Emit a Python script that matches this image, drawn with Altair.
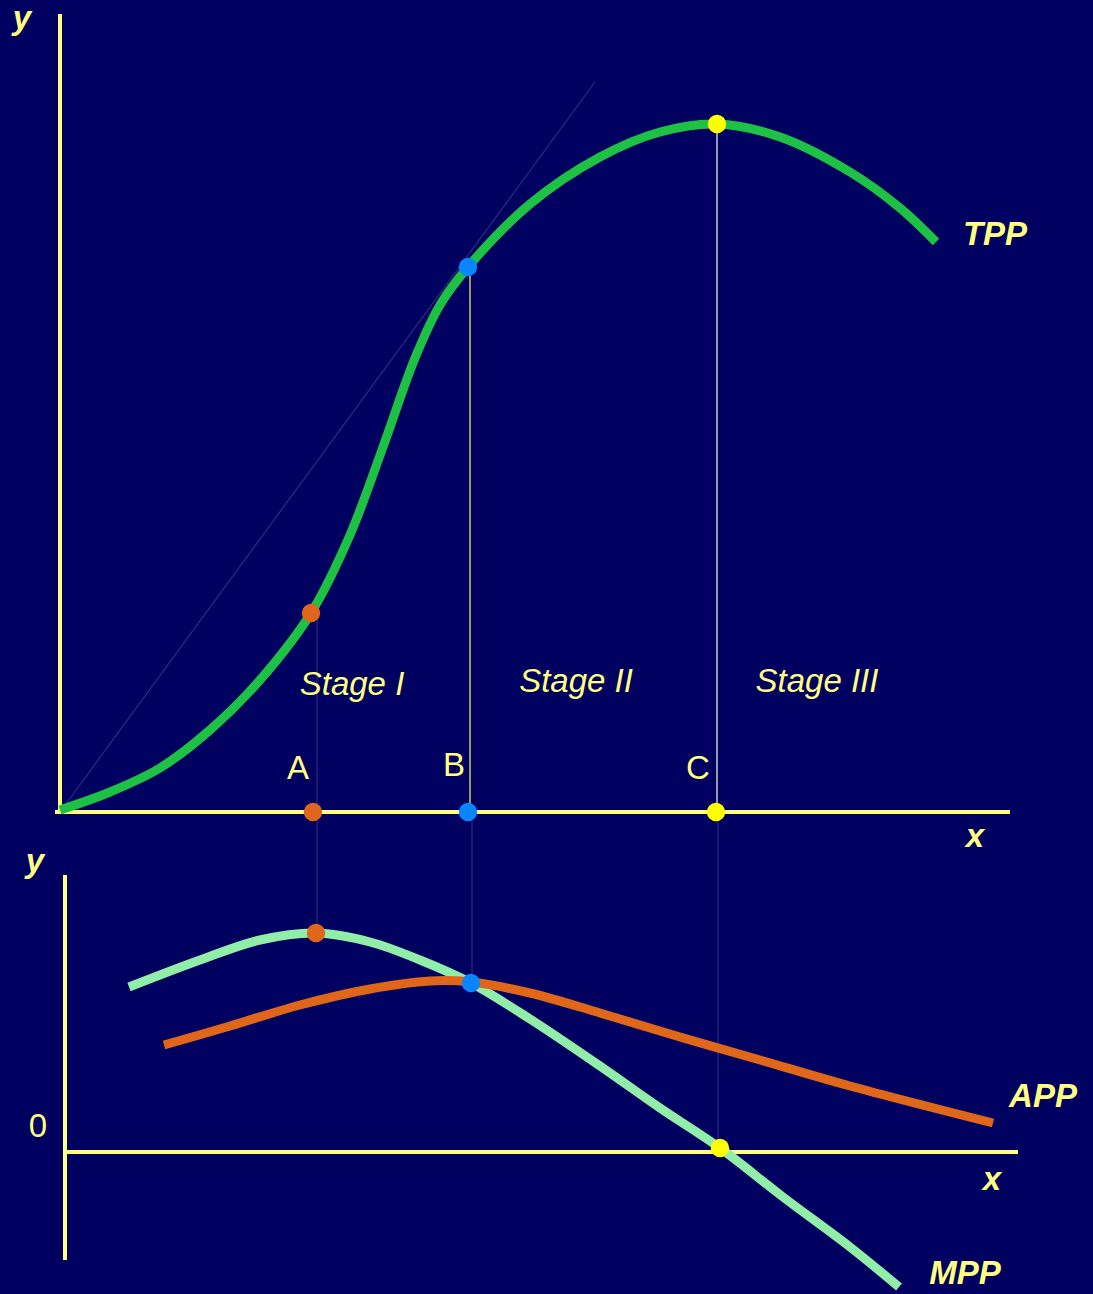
import altair as alt
import pandas as pd

# Diagram coordinates: x runs left to right, y runs top to bottom (0 = top edge).
W, H = 1093, 1294
BG = "#000060"
TEXT = "#FFFF80"

# Total physical product (upper panel)
tpp_x = [60, 110, 160, 210, 260, 311, 350, 383, 415, 440, 468, 530, 600, 660, 717, 780, 850, 900, 936]
tpp_y = [810, 792, 768, 730, 680, 613, 535, 447, 358, 305, 267, 204, 157, 132, 124, 137, 172, 208, 242]

# Marginal physical product (lower panel)
mpp_x = [129, 200, 260, 316, 370, 420, 471, 530, 600, 660, 720, 783, 850, 899]
mpp_y = [987, 960, 940, 933, 942, 960, 983, 1019, 1066, 1108, 1148, 1197, 1247, 1287]

# Average physical product (lower panel)
app_x = [164, 230, 300, 370, 430, 471, 530, 600, 680, 760, 850, 993]
app_y = [1045, 1026, 1005, 989, 981, 982, 993, 1013, 1037, 1060, 1086, 1123]

# Axes of both panels: (x, y, x2, y2)
axes_seg = [
    (60, 14, 60, 812), (55, 812, 1010, 812),
    (65, 875, 65, 1260), (65, 1152, 1018, 1152),
]

# Guide lines: tangent ray from the origin and the drop lines for A, B, C
guide_seg = [
    (60, 812, 595, 82, "#2C2C80"),
    (317, 617, 317, 812, "#2C2C80"), (317, 812, 317, 933, "#2C2C80"),
    (470, 268, 470, 812, "#FFFF60"), (472, 812, 472, 983, "#2C2C80"),
    (717, 125, 717, 812, "#FFFFE0"), (718, 812, 718, 1148, "#2C2C80"),
]

# Key points: A (inflection / MPP max), B (APP max), C (TPP max / MPP = 0)
pt_x = [311, 313, 316, 468, 468, 471, 717, 716, 720]
pt_y = [613, 812, 933, 267, 812, 983, 124, 812, 1148]
pt_c = ["#E0661E", "#E0661E", "#E0661E", "#0A84FF", "#0A84FF", "#0A84FF",
        "#FFFF00", "#FFFF00", "#FFFF00"]

# Labels
bold_lbl = ["y", "x", "TPP", "y", "x", "APP", "MPP"]
bold_x = [22, 975, 995, 35, 992, 1043, 965]
bold_y = [29, 847, 245, 872, 1190, 1107, 1284]

stage_lbl = ["Stage I", "Stage II", "Stage III"]
stage_x = [352, 576, 817]
stage_y = [695, 692, 692]

plain_lbl = ["A", "B", "C", "0"]
plain_x = [298, 454, 698, 38]
plain_y = [779, 776, 779, 1137]

xs = alt.Scale(domain=[0, W], nice=False, zero=False)
ys = alt.Scale(domain=[0, H], nice=False, zero=False, reverse=True)


def X(f="x"):
    return alt.X(f"{f}:Q", scale=xs, axis=None)


def Y(f="y"):
    return alt.Y(f"{f}:Q", scale=ys, axis=None)


def curve(xv, yv, color):
    df = pd.DataFrame({"x": xv, "y": yv, "i": range(len(xv))})
    return alt.Chart(df).mark_line(
        color=color, strokeWidth=9, interpolate="catmull-rom", strokeCap="butt"
    ).encode(x=X(), y=Y(), order="i:Q")


guides = alt.Chart(pd.DataFrame(guide_seg, columns=["x", "y", "x2", "y2", "c"])).mark_rule(
    strokeWidth=1.2
).encode(x=X(), y=Y(), x2="x2:Q", y2="y2:Q", color=alt.Color("c:N", scale=None))

axes = alt.Chart(pd.DataFrame(axes_seg, columns=["x", "y", "x2", "y2"])).mark_rule(
    color=TEXT, strokeWidth=4
).encode(x=X(), y=Y(), x2="x2:Q", y2="y2:Q")

points = alt.Chart(pd.DataFrame({"x": pt_x, "y": pt_y, "c": pt_c})).mark_point(
    filled=True, opacity=1, size=340, shape="circle"
).encode(x=X(), y=Y(), color=alt.Color("c:N", scale=None))

font = "Liberation Sans"
bold_text = alt.Chart(pd.DataFrame({"x": bold_x, "y": bold_y, "t": bold_lbl})).mark_text(
    font=font, fontSize=33, fontWeight="bold", fontStyle="italic", color=TEXT,
    align="center", baseline="alphabetic"
).encode(x=X(), y=Y(), text="t:N")

stage_text = alt.Chart(pd.DataFrame({"x": stage_x, "y": stage_y, "t": stage_lbl})).mark_text(
    font=font, fontSize=33, fontStyle="italic", color=TEXT,
    align="center", baseline="alphabetic"
).encode(x=X(), y=Y(), text="t:N")

plain_text = alt.Chart(pd.DataFrame({"x": plain_x, "y": plain_y, "t": plain_lbl})).mark_text(
    font=font, fontSize=33, color=TEXT, align="center", baseline="alphabetic"
).encode(x=X(), y=Y(), text="t:N")

chart = alt.layer(
    guides,
    axes,
    curve(tpp_x, tpp_y, "#1DC244"),
    curve(mpp_x, mpp_y, "#90EEA8"),
    curve(app_x, app_y, "#E0661A"),
    points,
    bold_text,
    stage_text,
    plain_text,
).properties(
    width=W, height=H, background=BG, padding=0,
    autosize=alt.AutoSizeParams(type="none"),
).configure_view(strokeWidth=0)

chart.save("out.html", embed_options={"renderer": "svg", "actions": False})
